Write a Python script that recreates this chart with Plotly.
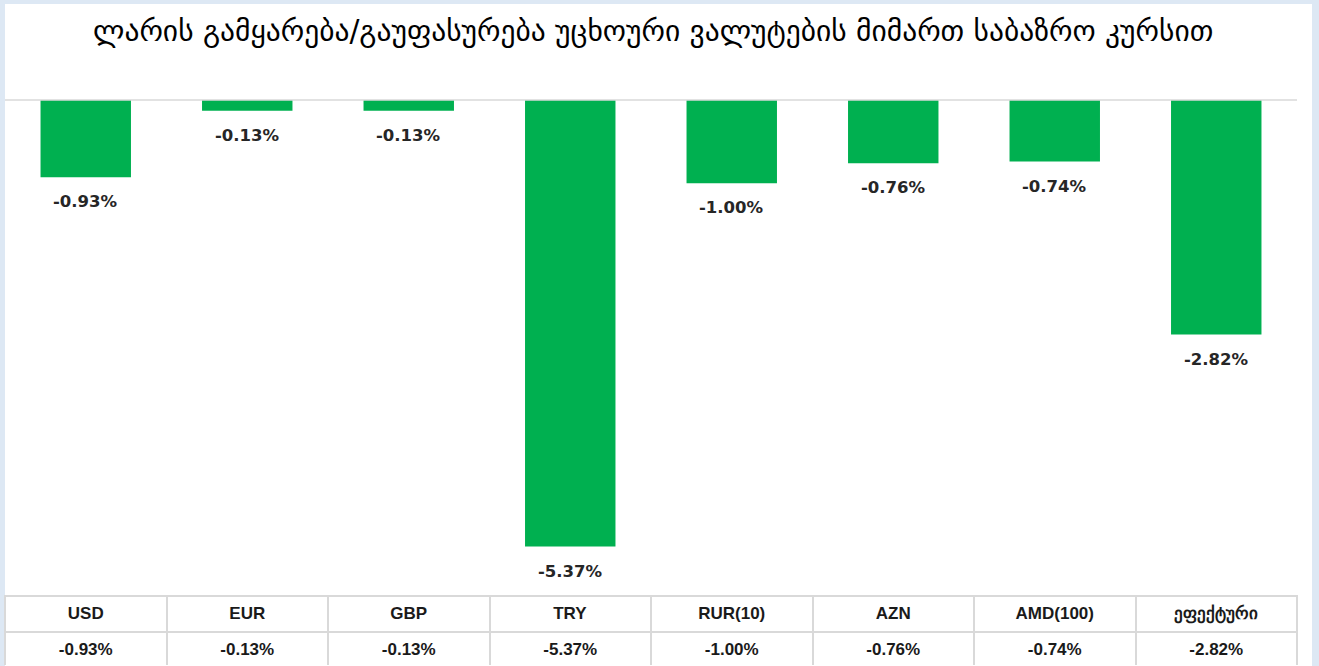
import plotly.graph_objects as go

categories = ["USD", "EUR", "GBP", "TRY", "RUR(10)", "AZN", "AMD(100)", "ეფექტური"]
values = [-0.93, -0.13, -0.13, -5.37, -1.00, -0.76, -0.74, -2.82]
title_text = "ლარის გამყარება/გაუფასურება უცხოური ვალუტების მიმართ საბაზრო კურსით"

W, H = 1319, 666
def px_x(p): return p / W
def px_y(p): return 1 - p / H

labels = [f"{v:.2f}%" for v in values]
green = "#00B050"

fig = go.Figure()
fig.add_trace(go.Bar(
    x=categories, y=values, marker=dict(color=green, line=dict(width=0)),
    hoverinfo="skip", showlegend=False,
))

for c, v, t in zip(categories, values, labels):
    fig.add_annotation(x=c, y=v, xref="x", yref="y", text=f"<b>{t}</b>",
                       showarrow=False, yanchor="top", yshift=-13,
                       font=dict(family="DejaVu Sans", size=16.5, color="#262626"))

tfont = dict(family="Liberation Sans, Arial", size=17, color="#1a1a1a")
fig.add_trace(go.Table(
    domain=dict(x=[px_x(5), px_x(1297)], y=[0, px_y(596)]),
    columnwidth=[1] * len(categories),
    header=dict(values=[f"<b>{c}</b>" for c in categories],
                fill_color="white", line=dict(color="#d9d9d9", width=2),
                align="center", height=35, font=tfont),
    cells=dict(values=[[f"<b>{t}</b>"] for t in labels],
               fill_color="white", line=dict(color="#d9d9d9", width=2),
               align="center", height=33, font=tfont),
))

fig.update_layout(
    width=W, height=H,
    margin=dict(l=0, r=0, t=0, b=0),
    paper_bgcolor="#dde8f4",
    plot_bgcolor="white",
    bargap=0.44,
    xaxis=dict(domain=[px_x(5), px_x(1297)], showticklabels=False, showgrid=False,
               zeroline=False, showline=False, ticks="", fixedrange=True),
    yaxis=dict(domain=[px_y(599), px_y(100)], range=[-6, 0], showticklabels=False,
               showgrid=False, zeroline=False, showline=False, ticks="", fixedrange=True),
    shapes=[
        dict(type="rect", xref="paper", yref="paper", x0=px_x(5), x1=px_x(1312),
             y0=0, y1=px_y(4), fillcolor="white", line=dict(width=0), layer="below"),
        dict(type="line", xref="paper", yref="paper", x0=px_x(5), x1=px_x(1297),
             y0=px_y(100), y1=px_y(100), line=dict(color="#d9d9d9", width=1.5), layer="above"),
    ],
    annotations=list(fig.layout.annotations) + [
        dict(x=px_x(653), y=px_y(31), xref="paper", yref="paper", text=title_text,
             showarrow=False, xanchor="center", yanchor="middle",
             font=dict(family="DejaVu Sans", size=29.5, color="#000000"))
    ],
)

fig.write_html("out.html", config={"displayModeBar": False},
               post_script="document.body.style.margin='0';document.body.style.overflow='hidden';")
